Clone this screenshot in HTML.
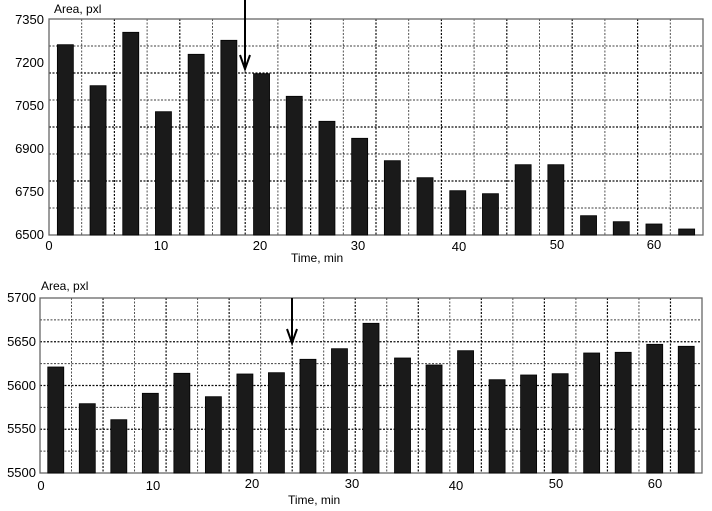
<!DOCTYPE html>
<html><head><meta charset="utf-8"><style>
html,body{margin:0;padding:0;background:#fff;}
svg{display:block;font-family:"Liberation Sans",Arial,sans-serif;}
</style></head><body>
<svg id="s" width="712" height="511" viewBox="0 0 712 511" xmlns="http://www.w3.org/2000/svg">
<g id="g1"></g>
<g font-size="13" fill="#000">
<text x="54" y="13" font-size="12">Area, pxl</text>
<g text-anchor="end">
<text x="44" y="24">7350</text>
<text x="44" y="67">7200</text>
<text x="44" y="110">7050</text>
<text x="44" y="153">6900</text>
<text x="44" y="196">6750</text>
<text x="44" y="239">6500</text>
</g>
<g text-anchor="middle">
<text x="49" y="250">0</text>
<text x="161" y="250">10</text>
<text x="260" y="250">20</text>
<text x="358" y="250">30</text>
<text x="459" y="251">40</text>
<text x="557" y="249">50</text>
<text x="654" y="249">60</text>
</g>
<text x="291" y="262" font-size="12">Time, min</text>

<text x="41" y="290" font-size="12">Area, pxl</text>
<g text-anchor="end">
<text x="36" y="302">5700</text>
<text x="36" y="346">5650</text>
<text x="36" y="390">5600</text>
<text x="36" y="433">5550</text>
<text x="36" y="477">5500</text>
</g>
<g text-anchor="middle">
<text x="41" y="490">0</text>
<text x="153" y="490">10</text>
<text x="252" y="488">20</text>
<text x="352" y="488">30</text>
<text x="456" y="490">40</text>
<text x="556" y="488">50</text>
<text x="655" y="488">60</text>
</g>
<text x="288" y="504" font-size="12">Time, min</text>
</g>
</svg>
<script>
const NS="http://www.w3.org/2000/svg",g=document.getElementById('g1');
function el(t,a){const e=document.createElementNS(NS,t);for(const k in a)e.setAttribute(k,a[k]);g.appendChild(e);return e;}
function chart(L,R,T,B,ncol,nh,tops){
  const cw=(R-L)/ncol, hh=(B-T)/nh;
  for(let i=1;i<ncol;i++){const x=L+i*cw;el('line',{x1:x,y1:T,x2:x,y2:B,stroke:'#000','stroke-width':(i%2?0.9:1.2),'stroke-dasharray':'2,1.5',opacity:(i%2?0.75:0.95)});}
  for(let j=1;j<nh;j++){const y=T+j*hh;el('line',{x1:L,y1:y,x2:R,y2:y,stroke:'#000','stroke-width':(j%2?0.9:1.2),'stroke-dasharray':'2,1.5',opacity:(j%2?0.75:0.95)});}
  el('rect',{x:L,y:T,width:R-L,height:B-T,fill:'none',stroke:'#666','stroke-width':1.3});
  tops.forEach((t,i)=>{const c=L+(i+0.5)*cw;el('rect',{x:c-8,y:t,width:16,height:B-t,fill:'#1a1a1a',stroke:'#000','stroke-width':0.8});});
}
chart(49,703,19,235,20,8,[44.7,85.7,32.3,111.7,54.3,40.3,73.7,96.3,121.3,138.3,160.7,177.7,190.7,193.7,164.7,164.7,215.7,221.7,224,229]);
chart(40,702,298,473,21,8,[367,403.7,419.7,393.3,373.3,396.7,374,372.7,359.3,348.7,323.3,358,365,350.7,379.7,375,373.7,353,352.3,344.3,346.3]);
function arrow(x,y1,y2){el('line',{x1:x,y1:y1,x2:x,y2:y2,stroke:'#000','stroke-width':2});
 el('polyline',{points:`${x-5},${y2-14} ${x},${y2} ${x+5},${y2-14}`,fill:'none',stroke:'#000','stroke-width':2});}
arrow(245,0,69);
arrow(292,298,343);
</script>
</body></html>
